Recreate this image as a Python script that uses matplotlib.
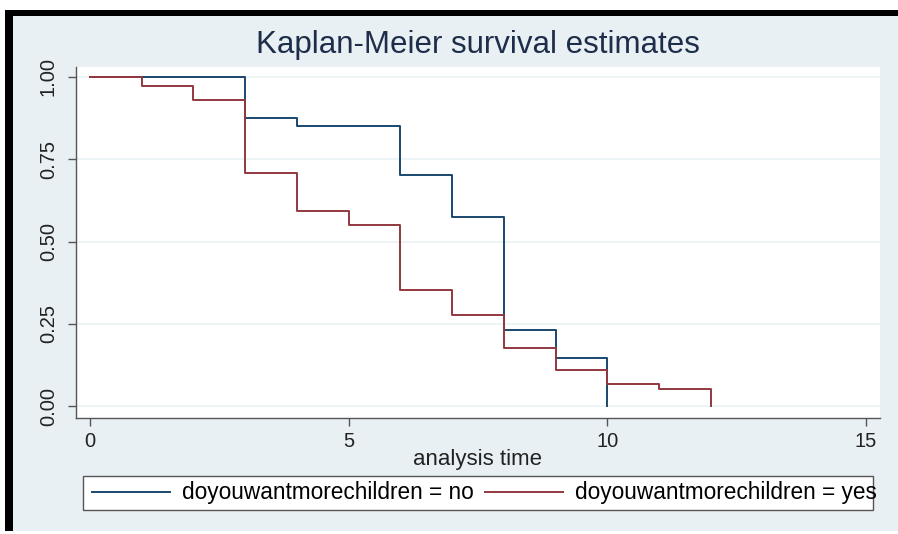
import matplotlib
matplotlib.use('Agg')
import matplotlib.pyplot as plt
from matplotlib.patches import Rectangle

# Kaplan-Meier step values
t_no = [0, 3, 4, 6, 7, 8, 9, 10]
s_no = [1.0, 0.875, 0.851, 0.703, 0.574, 0.232, 0.146, 0.0]
t_yes = [0, 1, 2, 3, 4, 5, 6, 7, 8, 9, 10, 11, 12]
s_yes = [1.0, 0.972, 0.929, 0.709, 0.592, 0.550, 0.352, 0.276, 0.178, 0.111, 0.067, 0.051, 0.0]
labels = ['doyouwantmorechildren = no', 'doyouwantmorechildren = yes']
xticks = [0, 5, 10, 15]
yticks = [0.0, 0.25, 0.5, 0.75, 1.0]

plt.rcParams['font.family'] = ['Liberation Sans', 'DejaVu Sans']

W, H = 898, 534
fig = plt.figure(figsize=(W / 100, H / 100), dpi=100)
fig.patch.set_facecolor('white')

def box(x0, y0, x1, y1, **kw):
    # pixel coords, y from top
    fig.patches.append(Rectangle((x0 / W, 1 - y1 / H), (x1 - x0) / W, (y1 - y0) / H,
                                 transform=fig.transFigure, **kw))

bg = '#e8f0f3'
box(12, 16, 898, 531, facecolor=bg, edgecolor='none', zorder=0)
box(5, 10, 898, 16, facecolor='black', edgecolor='none', zorder=1)
box(5, 10, 13, 531, facecolor='black', edgecolor='none', zorder=1)

ax = fig.add_axes([76 / W, 1 - 418 / H, (880 - 76) / W, (418 - 67) / H])
ax.set_zorder(3)
ax.set_facecolor('white')
ax.set_xlim(-0.27, 15.27)
ax.set_ylim(-0.036, 1.03)

blue = '#1a476f'
red = '#93383f'
ax.step(t_no, s_no, where='post', color=blue, lw=1.4, label=labels[0], zorder=3)
ax.step(t_yes, s_yes, where='post', color=red, lw=1.4, label=labels[1], zorder=3)

ax.set_xticks(xticks)
ax.set_yticks(yticks)
ax.set_yticklabels(['0.00', '0.25', '0.50', '0.75', '1.00'], rotation=90, va='center')
ax.grid(axis='y', color='#eaf2f3', lw=1.2, zorder=0)
for s in ['top', 'right']:
    ax.spines[s].set_visible(False)
for s in ['left', 'bottom']:
    ax.spines[s].set_color('#555555')
    ax.spines[s].set_linewidth(1.0)
ax.tick_params(direction='out', length=6, width=1.0, color='#555555',
               labelsize=14.5, labelcolor='#222222', pad=4)
ax.tick_params(axis='y', pad=7)

ax.set_xlabel('analysis time', fontsize=16, color='#222222', labelpad=-1)
fig.text(478 / W, 1 - 45 / H, 'Kaplan-Meier survival estimates', ha='center', va='center',
         fontsize=22.5, color='#1e2d4a')

box(83, 476, 873, 510, facecolor='white', edgecolor='#555555', lw=1.0, zorder=2)
fig.legend(loc='center left', bbox_to_anchor=(92 / W, 1 - 493 / H), ncol=2, frameon=False,
           fontsize=16.3, handlelength=3.45, handletextpad=0.53, columnspacing=0.5,
           borderaxespad=0, borderpad=0)

fig.savefig('out.png', dpi=100)
